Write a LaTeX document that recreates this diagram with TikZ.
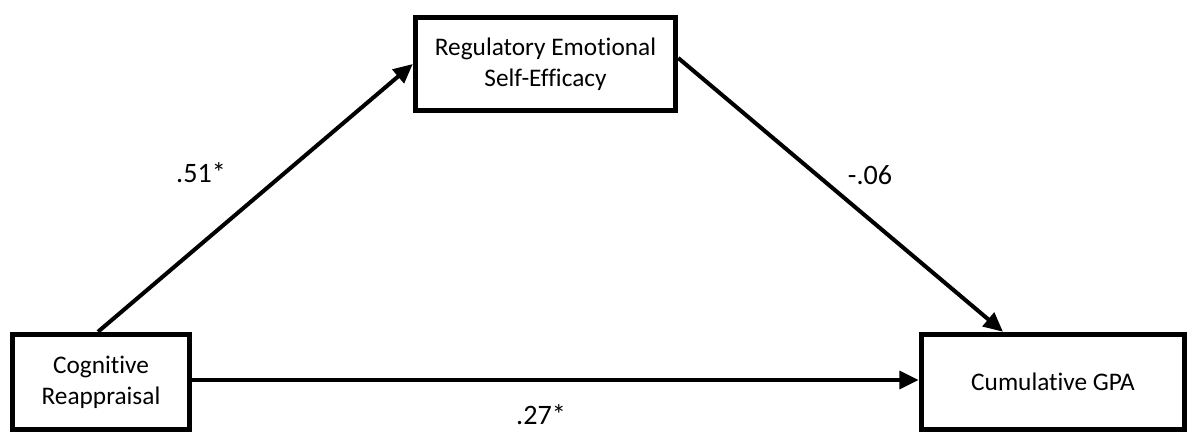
\documentclass[tikz,border=0pt]{standalone}
\usepackage{fontspec}
\setmainfont{Carlito}[RawFeature={-liga}]
\usepackage{tikz}
\usetikzlibrary{arrows.meta}

\tikzset{
    varbox/.style={draw, line width=3.1pt, align=center, inner sep=0pt,
        font=\fontsize{14.4}{17.6}\selectfont},
    path/.style={line width=2.3pt, -{Triangle[length=11pt,width=10pt]}},
    coef/.style={font=\fontsize{16}{19}\selectfont}
}

\begin{document}
\begin{tikzpicture}
    \useasboundingbox (0,0) rectangle (24,8.84);
    \node[varbox, minimum width=3.54cm, minimum height=1.9cm]  (cr)  at (2.02,1.20)  {Cognitive\\Reappraisal};
    \node[varbox, minimum width=5.2cm,  minimum height=1.86cm] (res) at (10.91,7.56) {Regulatory Emotional\\Self-Efficacy};
    \node[varbox, minimum width=5.26cm, minimum height=1.9cm]  (gpa) at (21.06,1.20) {Cumulative GPA};
    \draw[path]     ([xshift=-0.06cm]cr.north) -- (res.west);
    \draw[path]     ([yshift=0.12cm]res.east) -- ([xshift=-1cm]gpa.north);
    \draw[path]     ([yshift=0.04cm]cr.east) -- ([yshift=0.04cm]gpa.west);
    \node[coef] (ab) at (4.02,5.38)  {.51*};
    \node[coef] (bc) at (17.4,5.34)  {-.06};
    \node[coef] (ac) at (10.82,0.54) {.27*};
\end{tikzpicture}
\end{document}
